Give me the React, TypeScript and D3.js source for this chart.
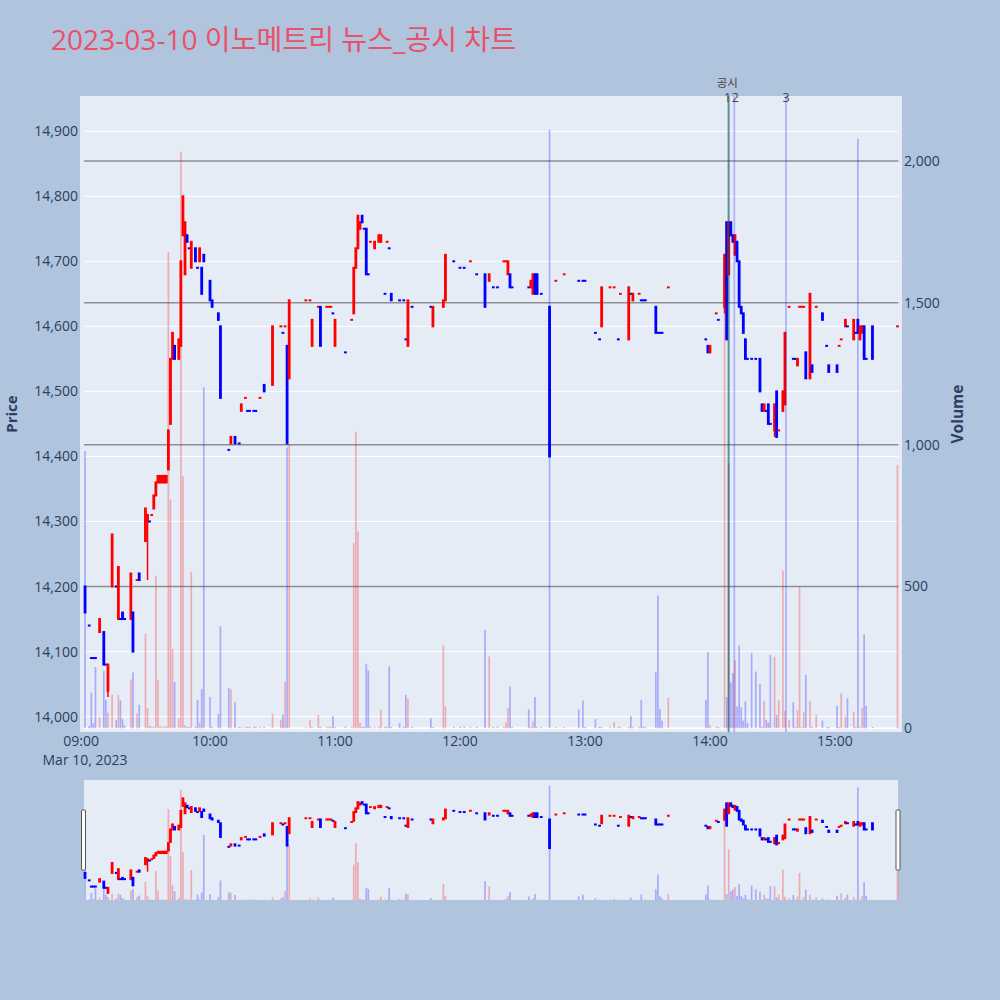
import React, { useEffect } from 'react';
import * as d3 from 'd3';

const TITLE = '2023-03-10 이노메트리 뉴스_공시 차트';

const times = [
  '09:00','09:02','09:03','09:04','09:05','09:07','09:09','09:10','09:11','09:13',
  '09:15','09:16','09:17','09:18','09:19','09:22','09:23','09:25','09:26','09:29',
  '09:30','09:31','09:32','09:33','09:34','09:35','09:36','09:37','09:38','09:39',
  '09:40','09:41','09:42','09:43','09:45','09:46','09:47','09:48','09:49','09:50',
  '09:51','09:53','09:54','09:55','09:56','09:57','10:00','10:01','10:04','10:05',
  '10:09','10:10','10:12','10:14','10:15','10:17','10:18','10:19','10:21','10:22',
  '10:24','10:26','10:30','10:34','10:35','10:36','10:37','10:38','10:46','10:48',
  '10:49','10:52','10:53','10:56','10:57','10:58','10:59','11:00','11:05','11:08',
  '11:09','11:10','11:11','11:12','11:13','11:14','11:15','11:16','11:17','11:19',
  '11:21','11:22','11:24','11:25','11:26','11:27','11:31','11:33','11:34','11:35',
  '11:37','11:46','11:47','11:52','11:53','11:57','12:00','12:02','12:05','12:08',
  '12:12','12:14','12:16','12:18','12:21','12:22','12:23','12:24','12:25','12:33',
  '12:34','12:35','12:36','12:37','12:39','12:43','12:46','12:50','12:57','12:59',
  '13:00','13:05','13:07','13:08','13:12','13:14','13:16','13:17','13:21','13:22',
  '13:23','13:26','13:27','13:28','13:29','13:34','13:35','13:36','13:37','13:40',
  '13:58','13:59','14:00','14:03','14:04','14:07','14:08','14:09','14:10','14:11',
  '14:12','14:13','14:14','14:15','14:16','14:17','14:18','14:20','14:22','14:24',
  '14:25','14:26','14:27','14:28','14:29','14:31','14:32','14:33','14:35','14:36',
  '14:38','14:40','14:41','14:42','14:43','14:44','14:45','14:46','14:48','14:49',
  '14:51','14:54','14:56','14:57','15:01','15:02','15:03','15:05','15:06','15:09',
  '15:10','15:11','15:12','15:13','15:14','15:15','15:18','15:30',
];

const open = [
  14200,14140,14090,14090,14090,14130,14130,14080,14040,14200,
  14200,14150,14150,14160,14150,14150,14160,14210,14220,14270,
  14300,14300,14310,14320,14340,14360,14360,14360,14360,14360,
  14380,14450,14550,14570,14550,14570,14740,14680,14740,14720,
  14690,14720,14690,14700,14690,14710,14670,14640,14620,14600,
  14410,14420,14430,14420,14470,14490,14470,14470,14470,14470,
  14490,14510,14510,14600,14590,14600,14570,14520,14640,14640,
  14570,14630,14630,14630,14630,14630,14620,14570,14560,14610,
  14620,14690,14720,14750,14770,14750,14750,14680,14730,14720,
  14730,14730,14650,14730,14720,14650,14640,14640,14580,14570,
  14630,14630,14600,14630,14640,14700,14690,14690,14700,14680,
  14680,14670,14660,14660,14700,14700,14680,14680,14660,14660,
  14660,14650,14680,14680,14650,14630,14670,14680,14670,14670,
  14670,14590,14580,14600,14660,14660,14580,14650,14580,14650,
  14640,14650,14640,14640,14640,14630,14590,14590,14590,14660,
  14580,14570,14560,14620,14610,14630,14760,14680,14760,14740,
  14710,14730,14700,14630,14620,14580,14550,14550,14550,14550,
  14480,14470,14470,14480,14450,14440,14500,14440,14470,14480,
  14630,14550,14550,14540,14630,14630,14630,14560,14520,14540,
  14630,14620,14570,14540,14540,14570,14580,14600,14600,14580,
  14590,14610,14580,14590,14600,14550,14600,14600,
];

const high = [
  14200,14140,14090,14090,14090,14150,14130,14080,14080,14280,
  14200,14230,14150,14160,14150,14220,14160,14210,14220,14320,
  14310,14300,14310,14340,14360,14370,14370,14370,14370,14370,
  14440,14550,14590,14570,14580,14700,14800,14760,14740,14720,
  14730,14720,14690,14720,14690,14710,14670,14640,14620,14600,
  14410,14430,14430,14420,14480,14490,14470,14470,14470,14470,
  14490,14510,14600,14600,14590,14600,14570,14640,14640,14640,
  14610,14630,14630,14630,14630,14630,14620,14610,14560,14610,
  14690,14720,14770,14760,14770,14750,14750,14680,14730,14730,
  14740,14740,14650,14730,14720,14650,14640,14640,14580,14640,
  14630,14630,14630,14640,14710,14700,14690,14690,14700,14680,
  14680,14680,14660,14660,14700,14700,14700,14680,14660,14660,
  14670,14680,14680,14680,14650,14630,14670,14680,14670,14670,
  14670,14590,14580,14660,14660,14660,14580,14650,14660,14650,
  14650,14650,14640,14640,14640,14630,14590,14590,14590,14660,
  14580,14570,14570,14620,14610,14710,14760,14760,14760,14740,
  14740,14730,14700,14630,14620,14580,14550,14550,14550,14550,
  14480,14480,14470,14480,14450,14480,14500,14440,14500,14590,
  14630,14550,14550,14550,14630,14630,14630,14560,14650,14540,
  14630,14620,14570,14540,14540,14570,14580,14610,14600,14610,
  14590,14610,14600,14600,14600,14550,14600,14600,
];

const low = [
  14160,14140,14090,14090,14090,14130,14080,14080,14030,14200,
  14200,14150,14150,14150,14150,14150,14100,14210,14210,14270,
  14210,14300,14310,14320,14340,14360,14360,14360,14360,14360,
  14380,14450,14550,14550,14550,14570,14740,14680,14730,14720,
  14690,14700,14690,14700,14650,14700,14640,14630,14610,14490,
  14410,14420,14420,14420,14470,14490,14470,14470,14470,14470,
  14490,14500,14510,14600,14590,14600,14420,14520,14640,14640,
  14570,14630,14570,14630,14630,14630,14620,14570,14560,14610,
  14620,14690,14720,14750,14760,14750,14680,14680,14730,14720,
  14730,14730,14650,14730,14720,14640,14640,14640,14580,14570,
  14630,14630,14600,14630,14640,14700,14690,14690,14700,14680,
  14630,14670,14660,14660,14700,14700,14680,14660,14660,14660,
  14660,14650,14650,14650,14650,14400,14670,14680,14670,14670,
  14670,14590,14580,14600,14660,14660,14580,14650,14580,14650,
  14640,14650,14640,14640,14640,14590,14590,14590,14590,14660,
  14580,14560,14560,14620,14610,14620,14580,14680,14740,14730,
  14710,14700,14630,14620,14590,14550,14550,14550,14550,14500,
  14470,14470,14470,14450,14450,14430,14430,14440,14470,14480,
  14630,14550,14550,14540,14630,14630,14630,14520,14520,14530,
  14630,14610,14570,14530,14530,14570,14580,14600,14600,14580,
  14590,14590,14580,14590,14550,14550,14550,14600,
];

const close = [
  14160,14140,14090,14090,14090,14150,14080,14080,14080,14280,
  14200,14230,14150,14150,14150,14220,14100,14210,14210,14320,
  14310,14300,14310,14340,14360,14370,14370,14370,14370,14370,
  14440,14550,14590,14550,14580,14700,14800,14760,14730,14720,
  14730,14700,14690,14720,14650,14700,14640,14630,14610,14490,
  14410,14430,14420,14420,14480,14490,14470,14470,14470,14470,
  14490,14500,14600,14600,14590,14600,14420,14640,14640,14640,
  14610,14630,14570,14630,14630,14630,14620,14610,14560,14610,
  14690,14720,14770,14760,14760,14750,14680,14680,14730,14730,
  14740,14740,14650,14730,14720,14640,14640,14640,14580,14640,
  14630,14630,14630,14640,14710,14700,14690,14690,14700,14680,
  14630,14680,14660,14660,14700,14700,14700,14660,14660,14660,
  14670,14680,14650,14650,14650,14400,14670,14680,14670,14670,
  14670,14590,14580,14660,14660,14660,14580,14650,14660,14650,
  14650,14650,14640,14640,14640,14590,14590,14590,14590,14660,
  14580,14560,14570,14620,14610,14710,14580,14760,14740,14730,
  14740,14700,14630,14620,14590,14550,14550,14550,14550,14500,
  14470,14480,14470,14450,14450,14480,14430,14440,14500,14590,
  14630,14550,14550,14550,14630,14630,14630,14520,14650,14530,
  14630,14610,14570,14530,14530,14570,14580,14610,14600,14610,
  14590,14590,14600,14600,14550,14550,14550,14600,
];

const volume = [
  977,8,126,18,216,39,203,100,55,118,
  30,118,98,32,9,171,197,53,83,334,
  71,8,6,6,538,171,8,5,5,8,
  1680,807,280,163,35,2033,889,12,5,5,
  552,5,100,20,138,1202,110,5,50,360,
  142,138,92,5,5,5,5,5,5,5,
  5,5,51,30,49,165,990,1000,5,29,
  5,47,5,5,5,5,44,5,5,5,
  653,1045,694,20,5,5,227,204,5,5,
  5,65,5,5,218,5,18,5,118,104,
  5,35,5,292,77,5,5,5,5,5,
  347,253,5,5,5,20,71,147,5,67,
  5,24,110,5,5,2110,5,5,67,98,
  5,32,5,5,5,22,5,5,5,44,
  5,5,100,5,5,198,468,68,27,108,
  100,268,12,5,5,1550,110,934,162,195,
  239,77,292,74,27,95,18,266,200,156,
  5,97,30,20,258,252,47,98,556,61,
  30,92,5,63,500,5,57,188,97,5,
  47,27,5,5,79,5,124,41,106,57,
  5,2078,5,72,331,79,5,928,
];

const priceTicks = [14000, 14100, 14200, 14300, 14400, 14500, 14600, 14700, 14800, 14900];
const volumeTicks = [0, 500, 1000, 1500, 2000];
const timeTicks = ['09:00', '10:00', '11:00', '12:00', '13:00', '14:00', '15:00'];
const dateLabel = 'Mar 10, 2023';

const eventTimes = ['14:08:50', '14:09:10', '14:11:40', '14:36:30'];
const eventLabels = ['공시', '1', '2', '3'];
const eventKinds = ['disclosure', 'news', 'news', 'news'];

const parseHM = d3.timeParse('%H:%M');
const parseHMS = d3.timeParse('%H:%M:%S');

const INC = '#ff0000';
const DEC = '#0000ff';
const TXT = '#2a3f5f';
const FONT = "'Open Sans', 'Noto Sans CJK KR', sans-serif";

function directions(): boolean[] {
  const out: boolean[] = [];
  let inc = false;
  let prev: number | undefined = undefined;
  for (let i = 0; i < close.length; i++) {
    const o = open[i];
    const c = close[i];
    if (c === o) {
      if (prev !== undefined && c !== prev) inc = c > prev;
    } else inc = c > o;
    out.push(inc);
    prev = c;
  }
  return out;
}

export default function App() {
  useEffect(() => {
    document.body.style.margin = '0';
  }, []);

  const x = d3
    .scaleTime()
    .domain([parseHMS('08:59:30') as Date, parseHMS('15:30:30') as Date])
    .range([84, 898.5]);
  const yP = d3.scaleLinear().domain([13982, 14948]).range([728.3, 100]);
  const yV = d3.scaleLinear().domain([0, 2215]).range([728.3, 100]);
  const yPs = yP.copy().range([900, 780]);
  const yVs = yV.copy().range([900, 780]);

  const dates = times.map((t) => parseHM(t) as Date);
  const dirs = directions();

  const bars = (yv: d3.ScaleLinear<number, number>, key: string) =>
    dates.map((d, i) => {
      const cx = x(d);
      const top = yv(volume[i]);
      return (
        <rect
          key={key + i}
          x={cx - 0.85}
          y={top}
          width={1.7}
          height={Math.max(0, yv(0) - top)}
          fill={dirs[i] ? INC : DEC}
          fillOpacity={0.27}
        />
      );
    });

  const candles = (yp: d3.ScaleLinear<number, number>, key: string) =>
    dates.map((d, i) => {
      const cx = x(d);
      const col = dirs[i] ? INC : DEC;
      const bt = yp(Math.max(open[i], close[i]));
      const bb = yp(Math.min(open[i], close[i]));
      return (
        <g key={key + i}>
          <line x1={cx} x2={cx} y1={yp(high[i])} y2={yp(low[i])} stroke={col} strokeWidth={1.5} />
          <rect x={cx - 1.4} y={bt - 1} width={2.8} height={bb - bt + 2} fill={col} />
        </g>
      );
    });

  const fmt = d3.format(',');
  const labelDx = [-1, -1.5, 1, 0];
  const labelY = [87, 102, 102, 102];

  return (
    <svg
      width={1000}
      height={1000}
      style={{ position: 'absolute', left: 0, top: 0, display: 'block' }}
      fontFamily={FONT}
    >
      <rect x={0} y={0} width={1000} height={1000} fill="#b0c4de" />
      <text x={51} y={50} fontSize={28} fill="#eb5068" textLength={465} lengthAdjust="spacingAndGlyphs">
        {TITLE}
      </text>

      {/* main plot */}
      <rect x={80} y={96} width={822} height={636} fill="#e5ecf6" />
      {priceTicks.map((p) => (
        <line key={'pg' + p} x1={84} x2={898.5} y1={yP(p)} y2={yP(p)} stroke="#ffffff" strokeWidth={1} />
      ))}
      {volumeTicks
        .filter((v) => v > 0)
        .map((v) => (
          <line key={'vg' + v} x1={84} x2={898.5} y1={yV(v)} y2={yV(v)} stroke="#8f8f8f" strokeWidth={1.5} />
        ))}
      <line x1={84} x2={898.5} y1={yV(0)} y2={yV(0)} stroke="#ffffff" strokeWidth={2} />

      {candles(yP, 'c')}
      {bars(yV, 'b')}

      {eventTimes.map((t, i) => {
        const ex = x(parseHMS(t) as Date);
        const disc = eventKinds[i] === 'disclosure';
        return (
          <line
            key={'ev' + i}
            x1={ex}
            x2={ex}
            y1={96}
            y2={732}
            stroke={disc ? '#008000' : '#0000ff'}
            strokeOpacity={disc ? 0.5 : 0.22}
            strokeWidth={disc ? 1.8 : 2}
          />
        );
      })}
      {eventTimes.map((t, i) => {
        const ex = x(parseHMS(t) as Date);
        const disc = eventKinds[i] === 'disclosure';
        return (
          <text
            key={'et' + i}
            x={ex + labelDx[i]}
            y={labelY[i]}
            fontSize={disc ? 11.5 : 12.5}
            textAnchor="middle"
            fill="#444444"
          >
            {eventLabels[i]}
          </text>
        );
      })}

      {/* price axis labels */}
      {priceTicks.map((p) => (
        <text key={'pl' + p} x={78} y={yP(p) + 5} fontSize={14} textAnchor="end" fill={TXT}>
          {fmt(p)}
        </text>
      ))}
      {/* volume axis labels */}
      {volumeTicks.map((v) => (
        <text key={'vl' + v} x={904} y={yV(v) + 5} fontSize={14} textAnchor="start" fill={TXT}>
          {fmt(v)}
        </text>
      ))}
      {/* time axis labels */}
      {timeTicks.map((t, i) => {
        const tx = x(parseHM(t) as Date);
        return (
          <text key={'tl' + t} x={i === 0 ? tx - 4 : tx} y={746} fontSize={14} textAnchor="middle" fill={TXT}>
            {t}
          </text>
        );
      })}
      <text x={x(parseHM(timeTicks[0]) as Date)} y={765} fontSize={14} textAnchor="middle" fill={TXT}>
        {dateLabel}
      </text>

      <text transform="translate(17,414) rotate(-90)" fontSize={15} fontWeight="bold" textAnchor="middle" fill={TXT}>
        Price
      </text>
      <text transform="translate(963,414) rotate(-90)" fontSize={15.5} fontWeight="bold" textAnchor="middle" fill={TXT}>
        Volume
      </text>

      {/* range slider */}
      <rect x={84} y={780} width={814} height={120} fill="#e5ecf6" />
      {candles(yPs, 'sc')}
      {bars(yVs, 'sb')}
      <rect x={81.5} y={810} width={4} height={60} fill="#ffffff" stroke="#555555" strokeWidth={1} rx={1} />
      <rect x={896} y={810} width={4} height={60} fill="#ffffff" stroke="#555555" strokeWidth={1} rx={1} />
    </svg>
  );
}
